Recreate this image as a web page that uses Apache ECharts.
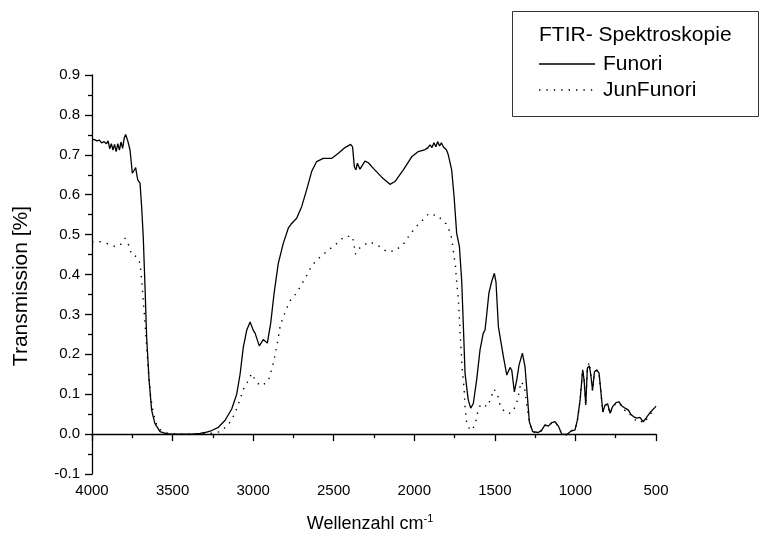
<!DOCTYPE html>
<html>
<head>
<meta charset="utf-8">
<script src="https://cdn.jsdelivr.net/npm/echarts@6/dist/echarts.min.js"></script>
<style>
html,body{margin:0;padding:0;background:#fff;}
#chart{width:761px;height:544px;}
</style>
</head>
<body>
<div id="chart"></div>
<script>
// Wavenumbers (cm^-1) and transmission values
var funoriWave = [4000,3985,3970,3955,3940,3925,3910,3900,3890,3880,3870,3860,3850,3840,3830,3820,3810,3800,3791,3778,3764,3756,3750,3740,3729,3722,3716,3702,3692,3682,3671,3661,3646,3630,3610,3578,3540,3506,3440,3381,3330,3299,3257,3216,3175,3133,3102,3081,3061,3040,3019,2999,2988,2962,2937,2912,2891,2870,2844,2813,2782,2761,2730,2699,2668,2637,2606,2565,2513,2471,2430,2395,2383,2372,2362,2353,2337,2306,2285,2254,2202,2151,2120,2068,2016,1975,1933,1915,1902,1890,1878,1866,1855,1843,1832,1820,1800,1789,1768,1753,1737,1720,1706,1696,1685,1665,1650,1634,1613,1592,1572,1561,1551,1537,1520,1503,1493,1478,1461,1447,1426,1406,1395,1379,1364,1350,1329,1313,1298,1286,1265,1230,1209,1189,1168,1147,1127,1106,1085,1054,1023,1003,988,971,955,946,936,926,914,905,894,882,867,853,841,830,816,800,785,769,748,729,713,692,671,657,640,620,600,579,562,537,506,500];
var funoriValues = [0.739,0.738,0.735,0.737,0.730,0.733,0.728,0.735,0.715,0.728,0.712,0.726,0.708,0.728,0.712,0.732,0.716,0.742,0.751,0.735,0.712,0.680,0.654,0.660,0.668,0.650,0.637,0.629,0.570,0.495,0.369,0.244,0.136,0.060,0.027,0.006,0.001,0.000,0.000,0.000,0.002,0.004,0.009,0.017,0.034,0.063,0.100,0.150,0.218,0.260,0.281,0.260,0.253,0.221,0.237,0.228,0.278,0.353,0.428,0.478,0.516,0.528,0.541,0.570,0.612,0.658,0.683,0.691,0.691,0.704,0.718,0.726,0.720,0.670,0.662,0.679,0.664,0.684,0.680,0.666,0.644,0.626,0.633,0.662,0.695,0.708,0.713,0.718,0.725,0.718,0.730,0.720,0.733,0.722,0.730,0.720,0.712,0.700,0.662,0.595,0.503,0.470,0.386,0.278,0.152,0.085,0.065,0.076,0.136,0.211,0.253,0.261,0.298,0.353,0.382,0.403,0.381,0.269,0.228,0.194,0.148,0.167,0.160,0.106,0.136,0.173,0.203,0.169,0.094,0.031,0.006,0.004,0.010,0.023,0.020,0.029,0.031,0.020,0.000,-0.001,0.009,0.010,0.035,0.085,0.161,0.135,0.073,0.165,0.171,0.150,0.110,0.156,0.161,0.152,0.102,0.056,0.073,0.076,0.052,0.069,0.079,0.081,0.071,0.065,0.060,0.050,0.044,0.040,0.042,0.031,0.040,0.054,0.067,0.070];

var junWave = [4000,3950,3899,3857,3826,3795,3770,3754,3723,3702,3692,3682,3671,3661,3651,3636,3620,3599,3570,3530,3450,3380,3319,3257,3206,3154,3123,3096,3061,3036,3009,2978,2947,2906,2875,2854,2833,2817,2796,2771,2730,2695,2664,2637,2589,2537,2486,2434,2384,2374,2365,2350,2319,2278,2222,2170,2116,2064,2026,1985,1944,1909,1876,1855,1830,1803,1782,1768,1753,1745,1737,1726,1720,1712,1702,1691,1685,1675,1660,1640,1619,1607,1588,1565,1544,1524,1505,1482,1468,1437,1402,1375,1358,1338,1317,1303,1286,1265,1230,1209,1189,1168,1147,1127,1106,1085,1054,1023,1003,988,971,955,946,936,926,914,905,894,882,867,853,841,830,816,800,785,769,748,729,713,700,692,671,657,640,620,600,579,562,537,506,500];
var junValues = [0.482,0.482,0.477,0.470,0.473,0.491,0.472,0.449,0.445,0.428,0.386,0.336,0.278,0.219,0.161,0.094,0.052,0.024,0.008,0.002,0.000,0.000,0.002,0.002,0.006,0.023,0.045,0.069,0.112,0.130,0.152,0.129,0.121,0.133,0.177,0.218,0.269,0.290,0.311,0.334,0.354,0.378,0.400,0.422,0.442,0.460,0.476,0.495,0.496,0.474,0.451,0.463,0.472,0.482,0.472,0.457,0.460,0.478,0.501,0.521,0.538,0.553,0.549,0.548,0.537,0.527,0.510,0.491,0.445,0.424,0.382,0.336,0.290,0.228,0.161,0.115,0.069,0.027,0.015,0.009,0.031,0.054,0.075,0.072,0.069,0.092,0.113,0.097,0.073,0.054,0.052,0.067,0.087,0.131,0.121,0.077,0.030,0.005,0.003,0.009,0.022,0.019,0.028,0.030,0.019,0.000,-0.002,0.008,0.009,0.034,0.084,0.160,0.134,0.072,0.166,0.180,0.150,0.108,0.155,0.160,0.150,0.100,0.055,0.072,0.075,0.051,0.067,0.077,0.079,0.068,0.060,0.062,0.057,0.047,0.040,0.032,0.035,0.028,0.035,0.050,0.060,0.062];

var seriesNames = ['Funori', 'JunFunori'];
var legendTitle = 'FTIR- Spektroskopie';
var xTitle = 'Wellenzahl cm';
var xTitleSup = '-1';
var yTitle = 'Transmission [%]';

function pairs(xs, ys) { return xs.map(function (x, i) { return [x, ys[i]]; }); }

var FONT = '"Liberation Sans", Arial, sans-serif';
var chart = echarts.init(document.getElementById('chart'), null, {renderer: 'canvas'});
var axisCommon = {
  axisLine: {show: true, lineStyle: {color: '#000', width: 1.3}},
  axisTick: {show: true, inside: false, length: 7, lineStyle: {color: '#000', width: 1.3}},
  minorTick: {show: true, splitNumber: 2, length: 4, lineStyle: {color: '#000', width: 1.3}},
  splitLine: {show: false},
  minorSplitLine: {show: false}
};
chart.setOption({
  animation: false,
  backgroundColor: '#fff',
  grid: {left: 92, right: 105, top: 75, bottom: 70, containLabel: false},
  xAxis: Object.assign({
    type: 'value', inverse: true, min: 500, max: 4000, interval: 500,
    axisLabel: {color: '#000', fontSize: 15, fontFamily: FONT, margin: 9,
      formatter: function (v) { return String(v); }}
  }, axisCommon),
  yAxis: Object.assign({
    type: 'value', min: -0.1, max: 0.9, interval: 0.1,
    axisLabel: {color: '#000', fontSize: 15, fontFamily: FONT, margin: 12,
      formatter: function (v) { return v.toFixed(1); }}
  }, axisCommon),
  series: [
    {name: seriesNames[0], type: 'line', data: pairs(funoriWave, funoriValues), showSymbol: false,
     lineStyle: {color: '#000', width: 1.3}, silent: true},
    {name: seriesNames[1], type: 'line', data: pairs(junWave, junValues), showSymbol: false,
     lineStyle: {color: '#000', width: 1.4, type: [1.4, 6]}, silent: true}
  ],
  graphic: [
    {type: 'rect', shape: {x: 512.5, y: 11.5, width: 246, height: 105},
     style: {fill: '#fff', stroke: '#333', lineWidth: 1}},
    {type: 'text', x: 539, y: 35, style: {text: legendTitle, font: '21px ' + FONT, fill: '#000', textVerticalAlign: 'middle'}},
    {type: 'line', shape: {x1: 539, y1: 64, x2: 595, y2: 64}, style: {stroke: '#000', lineWidth: 1.3}},
    {type: 'text', x: 603, y: 64, style: {text: seriesNames[0], font: '21px ' + FONT, fill: '#000', textVerticalAlign: 'middle'}},
    {type: 'line', shape: {x1: 539, y1: 90, x2: 595, y2: 90}, style: {stroke: '#000', lineWidth: 1.4, lineDash: [1.4, 6]}},
    {type: 'text', x: 603, y: 90, style: {text: seriesNames[1], font: '21px ' + FONT, fill: '#000', textVerticalAlign: 'middle'}},
    {type: 'text', x: 21, y: 286, rotation: Math.PI / 2,
     style: {text: yTitle, font: '21px ' + FONT, fill: '#000', textAlign: 'center', textVerticalAlign: 'middle'}},
    {type: 'text', x: 370, y: 524,
     style: {text: '{a|' + xTitle + '}{s|' + xTitleSup + '}', fill: '#000', textAlign: 'center', textVerticalAlign: 'middle',
       rich: {a: {fontSize: 18, fontFamily: FONT, color: '#000'},
              s: {fontSize: 11, fontFamily: FONT, color: '#000', verticalAlign: 'top', padding: [0, 0, 10, 0]}}}}
  ]
});
</script>
</body>
</html>
